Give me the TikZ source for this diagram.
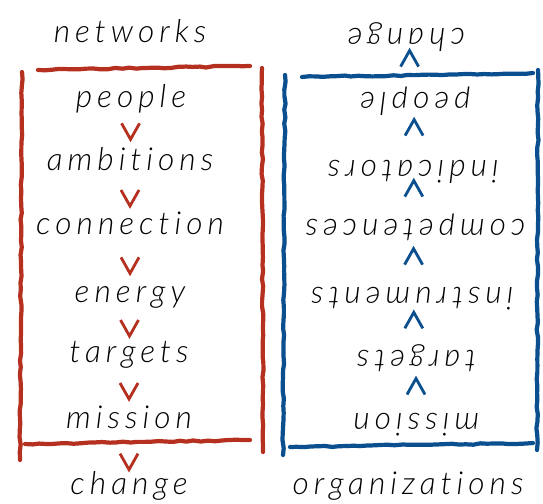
\documentclass[tikz,border=0pt]{standalone}
\usepackage{fontspec}
\newfontfamily\hand{Lato Light}[LetterSpace=16, Ligatures=NoCommon]
\usetikzlibrary{calc,decorations.pathmorphing}

\definecolor{netred}{HTML}{B5301F}
\definecolor{orgblue}{HTML}{0B4F8F}

\tikzset{
  word/.style={font=\hand\itshape\fontsize{18}{21}\selectfont,
    text height=1.6ex, text depth=0.5ex, inner sep=0pt},
  flip/.style={word, rotate=180},
  brush/.style={line width=2.4pt, line cap=round, decorate,
    decoration={random steps, segment length=4pt, amplitude=0.4pt}},
  chev/.style={line width=1.6pt},
}

% v and ^ marks between two words
\newcommand{\downv}[3]{\draw[chev, netred] ($(#1)!#3!(#2)$) +(-9,-8) -- +(0,8) -- +(9,-8);}
\newcommand{\upv}[3]{\draw[chev, orgblue] ($(#1)!#3!(#2)$) +(-9,8) -- +(0,-8) -- +(9,8);}

\begin{document}
\begin{tikzpicture}[x=0.02cm, y=-0.02cm]
\useasboundingbox (0,0) rectangle (543,503);

% networks column
\node[word] (nw)   at (130,38)  {networks};
\node[word] (np)   at (131,103) {people};
\node[word] (namb) at (130,166) {ambitions};
\node[word] (ncon) at (130,230) {connection};
\node[word] (nen)  at (130,298) {energy};
\node[word] (ntar) at (129,358) {targets};
\node[word] (nmis) at (129,424) {mission};
\node[word] (nch)  at (129,490) {change};

\downv{np}{namb}{0.45}
\downv{namb}{ncon}{0.5}
\downv{ncon}{nen}{0.52}
\downv{nen}{ntar}{0.5}
\downv{ntar}{nmis}{0.5}
\downv{nmis}{nch}{0.57}

\draw[brush, netred] (38,70) -- (250,66);
\draw[brush, netred] (22,72) -- (20,460);
\draw[brush, netred] (262,68) -- (263,452);
\draw[brush, netred] (25,444) -- (250,440);

% organizations column, read from below
\node[flip] (och)  at (406,33)  {change};
\node[flip] (op)   at (415,97)  {people};
\node[flip] (oind) at (413,165) {indicators};
\node[flip] (ocom) at (415,224) {competences};
\node[flip] (oins) at (412,292) {instruments};
\node[flip] (otar) at (416,355) {targets};
\node[flip] (omis) at (416,418) {mission};
\node[word] (org)  at (408,490) {organizations};

\upv{op}{och}{0.6}
\upv{oind}{op}{0.55}
\upv{ocom}{oind}{0.6}
\upv{oins}{ocom}{0.52}
\upv{otar}{oins}{0.55}
\upv{omis}{otar}{0.5}

\draw[brush, orgblue] (302,77) -- (533,73);
\draw[brush, orgblue] (285,75) -- (283,455);
\draw[brush, orgblue] (538,70) -- (537,450);
\draw[brush, orgblue] (290,447) -- (533,443);

\end{tikzpicture}
\end{document}
